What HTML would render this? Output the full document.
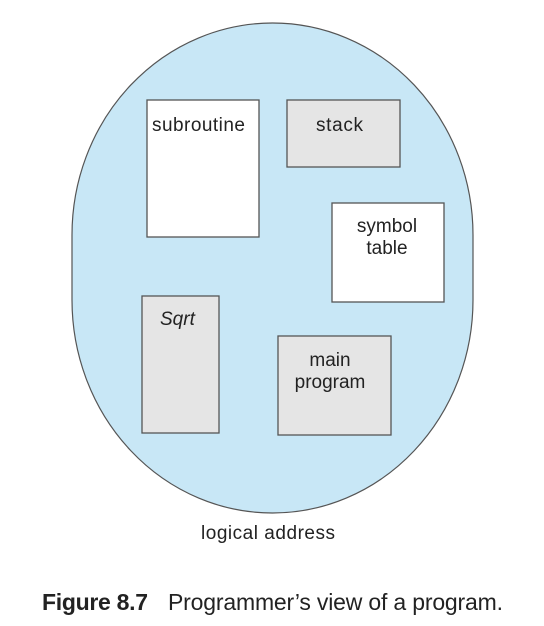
<!DOCTYPE html>
<html><head><style>
html,body{margin:0;padding:0;background:#fff;}
svg{display:block;}
text{font-family:"Liberation Sans",Arial,sans-serif;fill:#222;}
</style></head><body>
<svg width="544" height="626" viewBox="0 0 544 626" xmlns="http://www.w3.org/2000/svg">
<path d="M72,235 A200.5,212 0 0 1 473,235 L473,300 A200.5,213 0 0 1 72,300 Z" fill="#c8e7f6" stroke="#555" stroke-width="1.2"/>
<g stroke="#555" stroke-width="1.3">
<rect x="147" y="100" width="112" height="137" fill="#fff"/>
<rect x="287" y="100" width="113" height="67" fill="#e5e5e5"/>
<rect x="332" y="203" width="112" height="99" fill="#fff"/>
<rect x="142" y="296" width="77" height="137" fill="#e5e5e5"/>
<rect x="278" y="336" width="113" height="99" fill="#e5e5e5"/>
</g>
<g font-size="19">
<text x="152" y="131" textLength="93">subroutine</text>
<text x="316" y="131" textLength="47">stack</text>
<text x="387" y="232" text-anchor="middle">symbol</text>
<text x="387" y="254" text-anchor="middle">table</text>
<text x="160" y="325" font-style="italic">Sqrt</text>
<text x="330" y="366" text-anchor="middle">main</text>
<text x="330" y="388" text-anchor="middle">program</text>
<text x="201" y="539" textLength="134">logical address</text>
</g>
<text x="42" y="610" font-size="23" font-weight="bold" textLength="106">Figure 8.7</text>
<text x="168" y="610" font-size="23" textLength="335">Programmer’s view of a program.</text>
</svg>
</body></html>
